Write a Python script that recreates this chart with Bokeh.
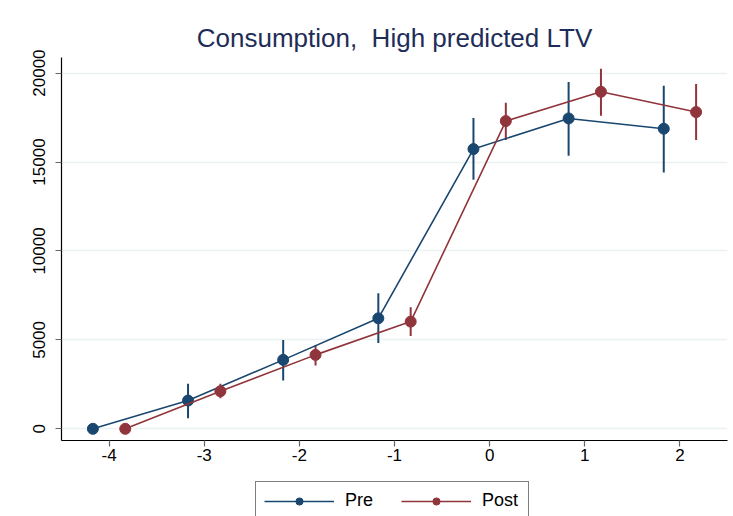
from bokeh.plotting import figure
from bokeh.layouts import column
from bokeh.models import Range1d, Legend, LegendItem, FixedTicker
from bokeh.embed import file_html
from bokeh.resources import INLINE

# Data
periods = [-4, -3, -2, -1, 0, 1, 2]
pre_mean = [0, 1590, 3876, 6213, 15730, 17450, 16871]
pre_lo = [0, 596, 2713, 4831, 14006, 15354, 14416]
pre_hi = [0, 2528, 5000, 7618, 17472, 19494, 19287]
post_mean = [0, 2112, 4157, 6028, 17303, 18949, 17809]
post_lo = [0, 1719, 3556, 5225, 16236, 17601, 16236]
post_hi = [0, 2528, 4719, 6831, 18331, 20242, 19382]
x_ticks = [-4, -3, -2, -1, 0, 1, 2]
x_tick_labels = ["-4", "-3", "-2", "-1", "0", "1", "2"]
y_ticks = [0, 5000, 10000, 15000, 20000]

OFF = 0.17
PRE_C = "#1a476f"
POST_C = "#90353b"
FONT = "Liberation Sans"

pre_x = [k - OFF for k in periods]
post_x = [k + OFF for k in periods]

p = figure(width=733, height=476, output_backend="svg", toolbar_location=None,
           x_range=Range1d(-4.5, 2.5), y_range=Range1d(-657, 20876),
           min_border_left=61, min_border_right=6, min_border_top=57,
           min_border_bottom=36)
p.outline_line_color = None
p.background_fill_color = "white"
p.border_fill_color = "white"

p.title.text = "Consumption,\u00a0 High predicted LTV"
p.title.align = "center"
p.title.text_font = FONT
p.title.text_font_size = "26px"
p.title.text_font_style = "normal"
p.title.text_color = "#1e2d58"
p.title.standoff = 9

for ax in (p.xaxis, p.yaxis):
    ax.axis_line_color = "black"
    ax.axis_line_width = 1.2
    ax.major_tick_line_color = "#666666"
    ax.major_tick_line_width = 1.2
    ax.major_tick_out = 6
    ax.major_tick_in = 0
    ax.minor_tick_line_color = None
    ax.major_label_text_font = FONT
    ax.major_label_text_font_size = "17px"
    ax.major_label_text_color = "black"

p.xaxis.ticker = FixedTicker(ticks=x_ticks)
p.xaxis.major_label_overrides = {t: s for t, s in zip(x_ticks, x_tick_labels)}
p.xaxis.major_label_standoff = 2
p.yaxis.ticker = FixedTicker(ticks=y_ticks)
p.yaxis.major_label_orientation = "vertical"
p.yaxis.major_label_standoff = 10

p.xgrid.grid_line_color = None
p.ygrid.grid_line_color = "#eaf2f3"
p.ygrid.grid_line_width = 1.5

# error bars
p.segment(x0=pre_x, y0=pre_lo, x1=pre_x, y1=pre_hi, line_color=PRE_C, line_width=2)
p.segment(x0=post_x, y0=post_lo, x1=post_x, y1=post_hi, line_color=POST_C, line_width=2)

p.line(pre_x, pre_mean, line_color=PRE_C, line_width=1.6)
p.scatter(pre_x, pre_mean, size=11, fill_color=PRE_C, line_color=PRE_C)
p.line(post_x, post_mean, line_color=POST_C, line_width=1.6)
p.scatter(post_x, post_mean, size=11, fill_color=POST_C, line_color=POST_C)

# Legend strip below the chart (series drawn again here, outside its view, only
# so that the legend can show their symbols)
lf = figure(width=733, height=40, output_backend="svg", toolbar_location=None,
            x_range=Range1d(100, 101), y_range=Range1d(100, 101),
            min_border=0, x_axis_type=None, y_axis_type=None)
lf.outline_line_color = None
lf.xgrid.grid_line_color = None
lf.ygrid.grid_line_color = None
lf.border_fill_color = "white"
lf.background_fill_color = "white"

lp = lf.line(pre_x, pre_mean, line_color=PRE_C, line_width=1.6)
sp = lf.scatter(pre_x, pre_mean, size=9, fill_color=PRE_C, line_color=PRE_C)
lq = lf.line(post_x, post_mean, line_color=POST_C, line_width=1.6)
sq = lf.scatter(post_x, post_mean, size=9, fill_color=POST_C, line_color=POST_C)

legend = Legend(items=[LegendItem(label="Pre", renderers=[lp, sp]),
                       LegendItem(label="Post", renderers=[lq, sq])],
                orientation="horizontal", location=(194, -4),
                glyph_width=70, glyph_height=18, label_standoff=11, spacing=18,
                label_width=38, padding=8, margin=0,
                label_text_font=FONT, label_text_font_size="18px",
                label_text_color="black",
                border_line_color="black", border_line_width=1.2,
                background_fill_color="white", background_fill_alpha=1)
lf.add_layout(legend, "center")

layout = column(p, lf, spacing=0)
open("out.html", "w").write(file_html(layout, INLINE))
